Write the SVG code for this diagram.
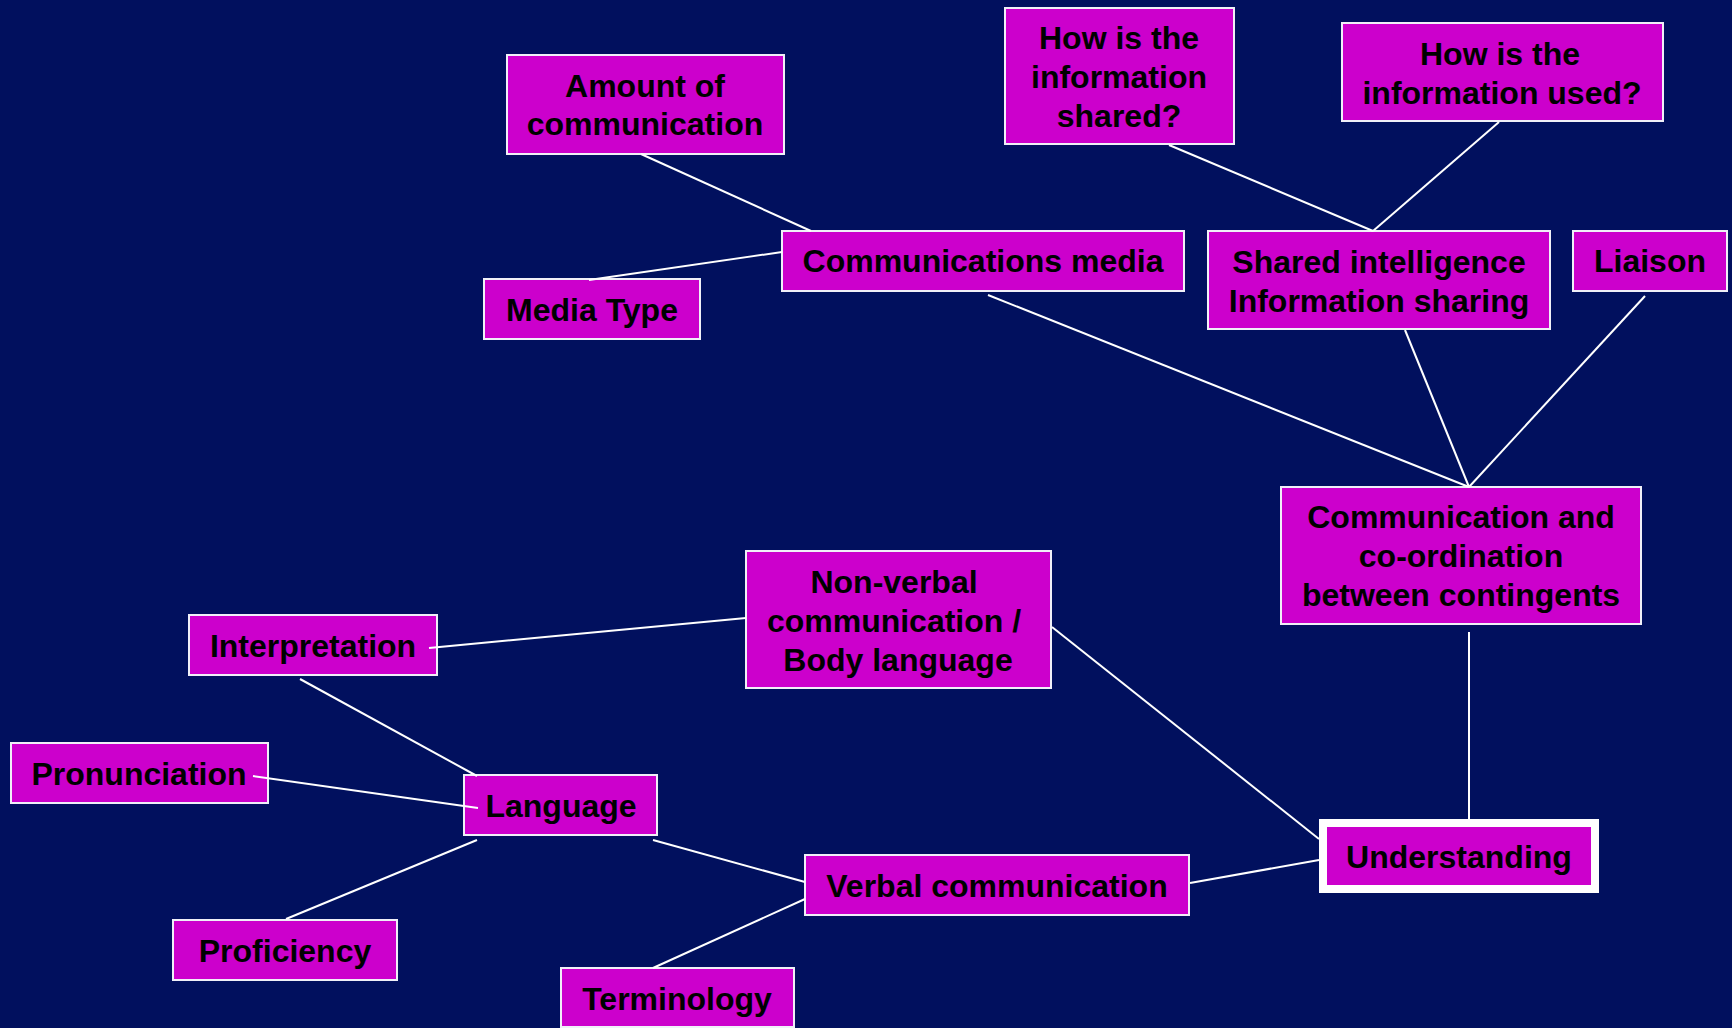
<svg xmlns="http://www.w3.org/2000/svg" width="1732" height="1028" viewBox="0 0 1732 1028">
<style>
.box{fill:#CC00CC;stroke:#F0F0F8;stroke-width:2}
.t{font-family:"Liberation Sans",Arial,sans-serif;font-weight:bold;font-size:32px;fill:#000;text-anchor:middle}
.c line{stroke:#FFFFFF;stroke-width:2}
</style>
<rect width="1732" height="1028" fill="#01105E"/>
<g id="amount"><rect class="box" x="507" y="55" width="277" height="99"/><text class="t" x="645" y="97">Amount of</text><text class="t" x="645" y="135">communication</text></g>
<g id="mediatype"><rect class="box" x="484" y="279" width="216" height="60"/><text class="t" x="592" y="321">Media Type</text></g>
<g id="commmedia"><rect class="box" x="782" y="231" width="402" height="60"/><text class="t" x="983" y="272">Communications media</text></g>
<g id="howshared"><rect class="box" x="1005" y="8" width="229" height="136"/><text class="t" x="1119" y="49">How is the</text><text class="t" x="1119" y="88">information</text><text class="t" x="1119" y="127">shared?</text></g>
<g id="howused"><rect class="box" x="1342" y="23" width="321" height="98"/><text class="t" x="1500" y="65">How is the</text><text class="t" x="1502" y="104">information used?</text></g>
<g id="shared"><rect class="box" x="1208" y="231" width="342" height="98"/><text class="t" x="1379" y="273">Shared intelligence</text><text class="t" x="1379" y="312">Information sharing</text></g>
<g id="liaison"><rect class="box" x="1573" y="231" width="154" height="60"/><text class="t" x="1650" y="272">Liaison</text></g>
<g id="commcoord"><rect class="box" x="1281" y="487" width="360" height="137"/><text class="t" x="1461" y="528">Communication and</text><text class="t" x="1461" y="567">co-ordination</text><text class="t" x="1461" y="606">between contingents</text></g>
<g id="nonverbal"><rect class="box" x="746" y="551" width="305" height="137"/><text class="t" x="894" y="593">Non-verbal</text><text class="t" x="894" y="632">communication /</text><text class="t" x="898" y="671">Body language</text></g>
<g id="interpretation"><rect class="box" x="189" y="615" width="248" height="60"/><text class="t" x="313" y="657">Interpretation</text></g>
<g id="pronunciation"><rect class="box" x="11" y="743" width="257" height="60"/><text class="t" x="139" y="785">Pronunciation</text></g>
<g id="language"><rect class="box" x="464" y="775" width="193" height="60"/><text class="t" x="561" y="817">Language</text></g>
<g id="proficiency"><rect class="box" x="173" y="920" width="224" height="60"/><text class="t" x="285" y="962">Proficiency</text></g>
<g id="terminology"><rect class="box" x="561" y="968" width="233" height="59"/><text class="t" x="677" y="1010">Terminology</text></g>
<g id="verbal"><rect class="box" x="805" y="855" width="384" height="60"/><text class="t" x="997" y="897">Verbal communication</text></g>
<g id="understanding"><rect x="1323" y="823" width="272" height="66" fill="#CC00CC" stroke="#FFFFFF" stroke-width="8"/><text class="t" x="1459" y="868">Understanding</text></g>
<g class="c" id="connectors">
<line x1="641" y1="154" x2="811" y2="231"/>
<line x1="589" y1="280" x2="782" y2="252"/>
<line x1="1169" y1="145" x2="1373" y2="231"/>
<line x1="1499" y1="122" x2="1373" y2="231"/>
<line x1="988" y1="295" x2="1469" y2="487"/>
<line x1="1405" y1="330" x2="1469" y2="487"/>
<line x1="1645" y1="296" x2="1469" y2="487"/>
<line x1="1469" y1="632" x2="1469" y2="819"/>
<line x1="429" y1="648" x2="746" y2="618"/>
<line x1="1052" y1="627" x2="1319" y2="839"/>
<line x1="300" y1="679" x2="477" y2="776"/>
<line x1="253" y1="776" x2="478" y2="808"/>
<line x1="477" y1="840" x2="286" y2="919"/>
<line x1="653" y1="840" x2="805" y2="882"/>
<line x1="653" y1="968" x2="805" y2="899"/>
<line x1="1190" y1="883" x2="1319" y2="860"/>
</g>
</svg>
